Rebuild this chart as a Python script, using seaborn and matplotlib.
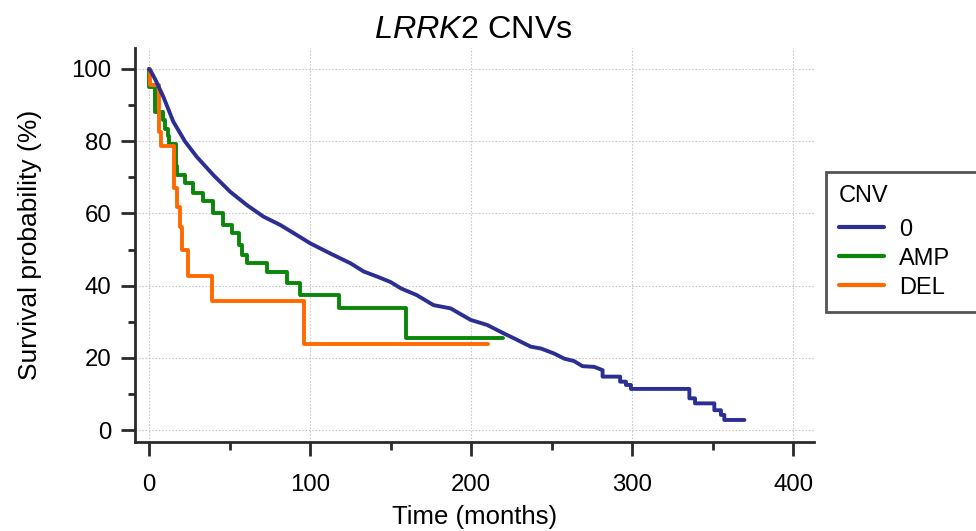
import matplotlib
matplotlib.use("Agg")
import matplotlib.pyplot as plt
import seaborn as sns
import pandas as pd
from matplotlib.ticker import MultipleLocator

# ---- data ----
groups = ["0", "AMP", "DEL"]

t_0 = [0, 1, 4, 8.9, 15.1, 22.4, 29.6, 40, 50.4, 60.8, 71.1, 81.5, 90, 100.2, 112.6,
       125.1, 133.4, 141.7, 150, 156.6, 166.2, 176.7, 187.3, 199.8, 210.1, 218.4, 226.7,
       237.1, 243.3, 251.6, 257.8, 264, 269.2, 276.5,
       281.7, 281.7, 292.6, 292.6, 296.2, 296.2, 299.3, 299.3, 335.6, 335.6, 339.1, 339.1,
       351.1, 351.1, 355.2, 355.2, 357.3, 357.3, 369.8]
s_0 = [100, 99.5, 97, 92.3, 85.4, 79.9, 75.7, 70.6, 66.0, 62.3, 59.1, 56.8, 54.5, 51.7, 48.9,
       46.2, 43.9, 42.5, 41.0, 39.2, 37.4, 34.6, 33.7, 30.5, 29.1, 27.2, 25.4,
       23.1, 22.6, 21.2, 19.8, 19.1, 17.7, 17.5,
       16.6, 14.8, 14.8, 13.4, 13.4, 12.5, 12.5, 11.4, 11.4, 8.8, 8.8, 7.4,
       7.4, 5.5, 5.5, 4.2, 4.2, 2.8, 2.8]

t_amp = [0, 0.3, 3.7, 8.6, 10.2, 11.5, 12.7, 16.5, 17.2, 22.4, 27.6, 33.8, 40.0, 46.2,
         51.4, 55.6, 57.7, 60.8, 73.2, 85.6, 94, 118, 159.3, 220]
s_amp = [100, 95, 88, 86, 83.5, 81.5, 79.3, 73, 70.6, 68.3, 65.6, 63.3, 60.0, 56.8,
         54.5, 51.2, 48.5, 46.2, 43.9, 40.6, 37.4, 33.7, 25.6, 25.6]

t_del = [0, 0.5, 6, 7.7, 15.5, 17.4, 19.1, 20.7, 24.5, 39.3, 96.5, 210.5]
s_del = [100, 95.6, 82.6, 78.7, 67, 61.9, 56.1, 50, 42.8, 35.8, 23.8, 23.8]

colors = {"0": "#2B2F93", "AMP": "#0A870A", "DEL": "#FF6A00"}

x_ticks = [0, 100, 200, 300, 400]
y_ticks = [0, 20, 40, 60, 80, 100]

title_italic = "LRRK2"
title_rest = "CNVs"
x_label = "Time (months)"
y_label = "Survival probability (%)"
legend_title = "CNV"

# ---- figure ----
sns.set_theme(style="white")
plt.rcParams["font.family"] = ["Liberation Sans", "DejaVu Sans"]
plt.rcParams["mathtext.fontset"] = "custom"
plt.rcParams["mathtext.it"] = "Liberation Sans:italic"
plt.rcParams["mathtext.rm"] = "Liberation Sans"
plt.rcParams["text.color"] = "black"

fig = plt.figure(figsize=(9.76, 5.31), dpi=100)
ax = fig.add_axes([135 / 976, 1 - 442 / 531, (814 - 135) / 976, (442 - 48) / 531])

df0 = pd.DataFrame({"t": t_0, "s": s_0})
dfa = pd.DataFrame({"t": t_amp, "s": s_amp})
dfd = pd.DataFrame({"t": t_del, "s": s_del})

lw = 2.8
sns.lineplot(data=df0, x="t", y="s", estimator=None, sort=False, color=colors["0"],
             lw=lw, ax=ax, label=groups[0], zorder=3)
sns.lineplot(data=dfa, x="t", y="s", estimator=None, sort=False, color=colors["AMP"],
             lw=lw, ax=ax, label=groups[1], drawstyle="steps-post", zorder=2)
sns.lineplot(data=dfd, x="t", y="s", estimator=None, sort=False, color=colors["DEL"],
             lw=lw, ax=ax, label=groups[2], drawstyle="steps-post", zorder=2)

ax.set_xlim(-8.7, 413)
ax.set_ylim(-3.3, 105.8)
ax.set_xticks(x_ticks)
ax.set_yticks(y_ticks)
ax.xaxis.set_minor_locator(MultipleLocator(50))
ax.yaxis.set_minor_locator(MultipleLocator(10))

ax.grid(True, which="major", color="#c8c8c8", linestyle=(0, (1.5, 1.5)), lw=0.8)
for side in ["top", "right"]:
    ax.spines[side].set_visible(False)
for side in ["left", "bottom"]:
    ax.spines[side].set_linewidth(2.0)
    ax.spines[side].set_color("#2a2a2a")

ax.tick_params(axis="both", which="major", direction="out", length=10, width=2,
               color="#2a2a2a", labelsize=17.3, labelcolor="black")
ax.tick_params(axis="x", which="major", pad=13, bottom=True)
ax.tick_params(axis="y", which="major", pad=7, left=True)
ax.tick_params(axis="x", which="minor", direction="out", length=6, width=2,
               color="#2a2a2a", bottom=True)
ax.tick_params(axis="y", which="minor", direction="out", length=5, width=2,
               color="#2a2a2a", left=True)

ax.set_xlabel(x_label, fontsize=18.5, color="black")
ax.set_ylabel(y_label, fontsize=19, color="black")
ax.xaxis.set_label_coords(0.5, -0.16)
ax.xaxis.label.set_va("top")
ax.yaxis.set_label_coords(-0.137, 0.5)

fig.text(473 / 976, 1 - 38 / 531, r"$\mathit{" + title_italic + r"}$ " + title_rest,
         ha="center", va="baseline", fontsize=23.3, color="black")

leg = ax.legend(title=legend_title, loc="upper left",
                bbox_to_anchor=(826 / 976, 1 - 173 / 531, 0.25, 0.001),
                bbox_transform=fig.transFigure, mode="expand",
                fontsize=17, title_fontsize=17, frameon=True, fancybox=False,
                handlelength=1.9, handletextpad=0.65, labelspacing=0.3,
                borderpad=0.55, borderaxespad=0)
leg._legend_box.align = "left"
leg._legend_box.sep = 8
leg.get_title().set_color("black")
for txt in leg.get_texts():
    txt.set_color("black")
frame = leg.get_frame()
frame.set_edgecolor("#2a2a2a")
frame.set_linewidth(2.0)
frame.set_facecolor("white")
for line in leg.get_lines():
    line.set_linewidth(3)

fig.savefig("out.png", dpi=100)
